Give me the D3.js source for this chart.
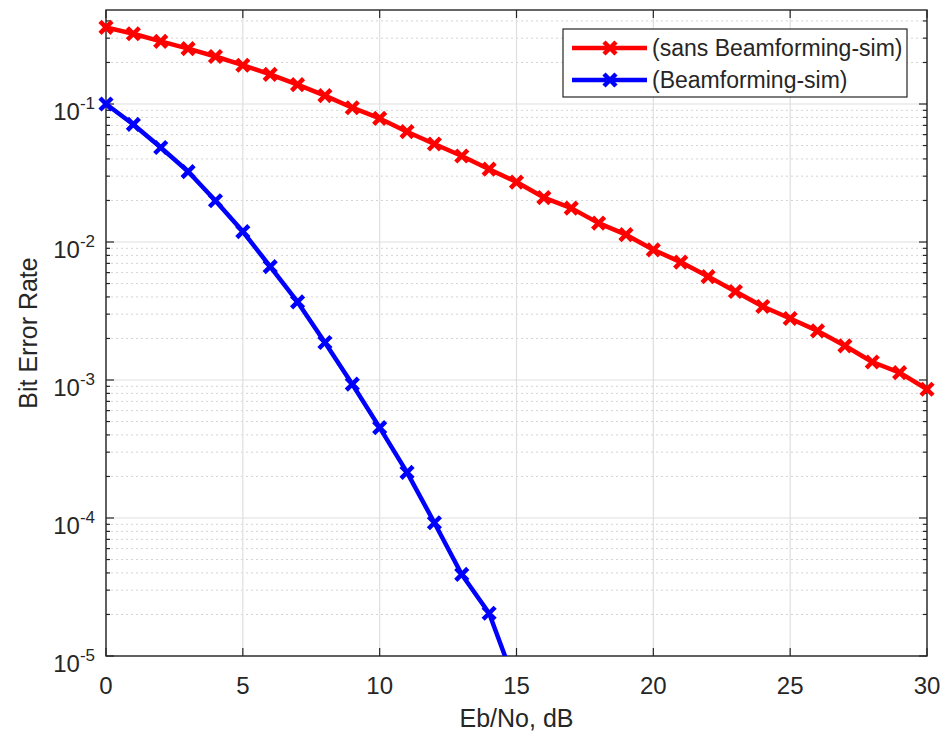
<!DOCTYPE html>
<html>
<head>
<meta charset="utf-8">
<script src="https://cdn.jsdelivr.net/npm/d3@7"></script>
<style>
  body { margin: 0; background: #fff; }
  svg text { font-family: "Liberation Sans", Arial, Helvetica, sans-serif; fill: #262626; }
</style>
</head>
<body>
<div id="chart"></div>
<script>
// Eb/No values (dB)
var ebno = d3.range(0, 31);
// BER without beamforming
var berNoBf = [0.359, 0.323, 0.284, 0.252, 0.221, 0.191, 0.164, 0.138, 0.115, 0.094,
  0.0786, 0.0630, 0.0513, 0.0420, 0.0337, 0.0272, 0.0210, 0.0176, 0.0137, 0.0113,
  0.00878, 0.00715, 0.00562, 0.00438, 0.00341, 0.00279, 0.00227, 0.00177, 0.00135, 0.00113,
  0.000857];
// BER with beamforming (goes under 1e-5 after 14 dB)
var berBf = [0.1, 0.0711, 0.0484, 0.0324, 0.0199, 0.0119, 0.00664, 0.00368, 0.00187, 0.000933,
  0.000452, 0.000214, 0.0000924, 0.000039, 0.0000204, 0.00000595];
var xTicks = [0, 5, 10, 15, 20, 25, 30];
var yDecades = [-5, -4, -3, -2, -1];
var seriesNames = ["(sans Beamforming-sim)", "(Beamforming-sim)"];
var seriesColors = ["#ff0000", "#0000ff"];

var W = 944, H = 735;
var margin = {left: 106, top: 10, right: 17, bottom: 79};
var iw = W - margin.left - margin.right;
var ih = H - margin.top - margin.bottom;
var yMin = 1e-5, yMax = 0.48;

var svg = d3.select("#chart").append("svg")
  .attr("width", W).attr("height", H);

var x = d3.scaleLinear().domain([0, 30]).range([0, iw]);
var y = d3.scaleLog().domain([yMin, yMax]).range([ih, 0]);

var g = svg.append("g").attr("transform", "translate(" + margin.left + "," + margin.top + ")");

g.append("clipPath").attr("id", "clip")
  .append("rect").attr("width", iw).attr("height", ih);

// minor y grid (dotted)
var minor = [];
yDecades.forEach(function(e) {
  for (var k = 2; k <= 9; k++) {
    var v = k * Math.pow(10, e);
    if (v <= yMax) minor.push(v);
  }
});
g.append("g").selectAll("line").data(minor).enter().append("line")
  .attr("x1", 0).attr("x2", iw)
  .attr("y1", function(d) { return y(d); }).attr("y2", function(d) { return y(d); })
  .attr("stroke", "#d4d4d4").attr("stroke-width", 1).attr("stroke-dasharray", "2,3");

// major grid
g.append("g").selectAll("line").data(yDecades).enter().append("line")
  .attr("x1", 0).attr("x2", iw)
  .attr("y1", function(d) { return y(Math.pow(10, d)); }).attr("y2", function(d) { return y(Math.pow(10, d)); })
  .attr("stroke", "#dfdfdf").attr("stroke-width", 1.2);
g.append("g").selectAll("line").data(xTicks).enter().append("line")
  .attr("y1", 0).attr("y2", ih)
  .attr("x1", function(d) { return x(d); }).attr("x2", function(d) { return x(d); })
  .attr("stroke", "#dfdfdf").attr("stroke-width", 1.2);

// ticks (inward, all four sides)
var ticks = g.append("g").attr("stroke", "#262626").attr("stroke-width", 1.2);
xTicks.forEach(function(d) {
  ticks.append("line").attr("x1", x(d)).attr("x2", x(d)).attr("y1", ih).attr("y2", ih - 8);
  ticks.append("line").attr("x1", x(d)).attr("x2", x(d)).attr("y1", 0).attr("y2", 8);
});
yDecades.forEach(function(e) {
  var yy = y(Math.pow(10, e));
  ticks.append("line").attr("x1", 0).attr("x2", 8).attr("y1", yy).attr("y2", yy);
  ticks.append("line").attr("x1", iw).attr("x2", iw - 8).attr("y1", yy).attr("y2", yy);
});
minor.forEach(function(v) {
  var yy = y(v);
  ticks.append("line").attr("x1", 0).attr("x2", 4).attr("y1", yy).attr("y2", yy);
  ticks.append("line").attr("x1", iw).attr("x2", iw - 4).attr("y1", yy).attr("y2", yy);
});

// box
g.append("rect").attr("width", iw).attr("height", ih)
  .attr("fill", "none").attr("stroke", "#262626").attr("stroke-width", 1.4);

// x tick labels
g.append("g").selectAll("text").data(xTicks).enter().append("text")
  .attr("x", function(d) { return x(d); }).attr("y", ih + 38)
  .attr("text-anchor", "middle").attr("font-size", 24)
  .text(function(d) { return d; });

// y tick labels with superscripts
var yl = g.append("g").selectAll("text").data(yDecades).enter().append("text")
  .attr("x", -11).attr("y", function(d) { return y(Math.pow(10, d)) + 16; })
  .attr("text-anchor", "end").attr("font-size", 24);
yl.append("tspan").text("10");
yl.append("tspan").attr("dy", -11).attr("font-size", 17).text(function(d) { return "-" + (-d); });

// axis labels
svg.append("text").attr("x", margin.left + iw / 2).attr("y", 727)
  .attr("text-anchor", "middle").attr("font-size", 25).text("Eb/No, dB");
svg.append("text").attr("transform", "translate(37," + (margin.top + ih / 2) + ") rotate(-90)")
  .attr("text-anchor", "middle").attr("font-size", 25).text("Bit Error Rate");

// lines
var series = [berNoBf, berBf];
var line = d3.line()
  .x(function(d) { return x(d[0]); })
  .y(function(d) { return y(d[1]); });
var plot = g.append("g").attr("clip-path", "url(#clip)");
series.forEach(function(s, i) {
  var pts = s.map(function(v, j) { return [ebno[j], v]; });
  plot.append("path").datum(pts)
    .attr("d", line).attr("fill", "none")
    .attr("stroke", seriesColors[i]).attr("stroke-width", 4.5)
    .attr("stroke-linejoin", "round");
});

function xMarker(sel, cx, cy, color) {
  var r = 6;
  sel.append("path")
    .attr("d", "M" + (cx - r) + "," + (cy - r) + "L" + (cx + r) + "," + (cy + r) +
      "M" + (cx - r) + "," + (cy + r) + "L" + (cx + r) + "," + (cy - r))
    .attr("stroke", color).attr("stroke-width", 4.5).attr("fill", "none");
}
var marks = g.append("g");
series.forEach(function(s, i) {
  s.forEach(function(v, j) {
    if (v >= yMin && v <= yMax) xMarker(marks, x(ebno[j]), y(v), seriesColors[i]);
  });
});

// legend
var lg = svg.append("g").attr("transform", "translate(563,29)");
lg.append("rect").attr("width", 344).attr("height", 68)
  .attr("fill", "#fff").attr("stroke", "#262626").attr("stroke-width", 1.2);
seriesNames.forEach(function(name, i) {
  var yy = 19 + i * 32;
  lg.append("line").attr("x1", 9).attr("x2", 84).attr("y1", yy).attr("y2", yy)
    .attr("stroke", seriesColors[i]).attr("stroke-width", 4.5);
  xMarker(lg, 47, yy, seriesColors[i]);
  lg.append("text").attr("x", 89).attr("y", yy + 8).attr("font-size", 23).text(name);
});
</script>
</body>
</html>
